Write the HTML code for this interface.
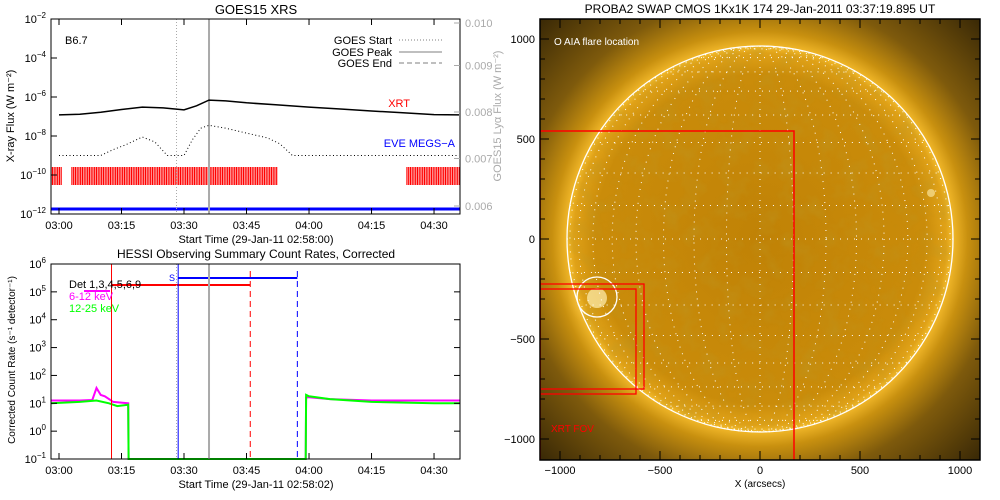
<!DOCTYPE html>
<html><head><meta charset="utf-8"><style>
body{margin:0;background:#fff}
svg{display:block;font-family:"Liberation Sans",sans-serif}
</style></head><body>
<svg id="svg" width="1000" height="500" viewBox="0 0 1000 500" xmlns="http://www.w3.org/2000/svg">
<defs>
<radialGradient id="corona" cx="760" cy="239" r="310" gradientUnits="userSpaceOnUse">
<stop offset="0" stop-color="#f0b420"/>
<stop offset="0.62" stop-color="#f2b82a"/>
<stop offset="0.67" stop-color="#c8900f"/>
<stop offset="0.78" stop-color="#7e5a0c"/>
<stop offset="1" stop-color="#3a2906"/>
</radialGradient>
<radialGradient id="disk" cx="760" cy="239" r="194" gradientUnits="userSpaceOnUse">
<stop offset="0" stop-color="#c08206"/>
<stop offset="0.85" stop-color="#ca8c0a"/>
<stop offset="0.96" stop-color="#e0a218"/>
<stop offset="1" stop-color="#f6c030"/>
</radialGradient>
<radialGradient id="flareGlow" cx="597" cy="298" r="30" gradientUnits="userSpaceOnUse">
<stop offset="0" stop-color="#fff4c8"/>
<stop offset="1" stop-color="#f0b424" stop-opacity="0"/>
</radialGradient>
<filter id="mottle" x="0" y="0" width="1" height="1">
<feTurbulence type="fractalNoise" baseFrequency="0.05" numOctaves="3" seed="7"/>
<feColorMatrix type="matrix" values="0 0 0 0 0.5  0 0 0 0 0.32  0 0 0 0 0.02  1.6 0 0 0 -0.7"/>
</filter>
<clipPath id="diskClip"><circle cx="760" cy="239" r="193"/></clipPath>
<clipPath id="imgClip"><rect x="540" y="19" width="440" height="441"/></clipPath>
</defs>
<g id="topPanel"></g>
<g id="botPanel"></g>
<g id="sunPanel"></g>
</svg>
<script>
// ---------- data ----------
const goesTimes = [0, 5, 10, 15, 20, 25, 30, 33, 36, 40, 45, 52, 60, 68, 75, 82, 90, 96];
const goesLog   = [-6.92, -6.88, -6.78, -6.64, -6.52, -6.56, -6.66, -6.45, -6.16, -6.2, -6.3, -6.4, -6.52, -6.62, -6.72, -6.8, -6.9, -6.92];
const loTimes = [0, 10, 13, 16, 20, 23, 26, 30, 32, 34, 36, 40, 45, 50, 53, 56, 62, 70, 80, 88, 96];
const loLog   = [-9.0, -9.0, -8.7, -8.45, -8.05, -8.3, -9.0, -9.0, -8.2, -7.6, -7.45, -7.6, -7.85, -8.1, -8.4, -9.0, -9.0, -9.0, -9.0, -9.0, -9.0];
const xrtIntervals = [[-2, 0.7], [3.1, 52.5], [83.5, 98]];
const goesXTicks = ["03:00", "03:15", "03:30", "03:45", "04:00", "04:15", "04:30"];
const goesYExp = [-2, -4, -6, -8, -10, -12];
const rightTicks = ["0.010", "0.009", "0.008", "0.007", "0.006"];
const goesStart = 28.2, goesPeak = 36.0;

const hessiYExp = [6, 5, 4, 3, 2, 1, 0, -1];
const magTimes = [-2, 5, 8, 9, 10, 11, 12, 13, 16.6, 16.7, 59.2, 59.3, 60, 65, 75, 90, 98];
const magLog   = [1.1, 1.1, 1.12, 1.55, 1.3, 1.25, 1.15, 1.05, 1.0, -1, -1, 1.2, 1.22, 1.15, 1.1, 1.1, 1.1];
const grnTimes = [-2, 5, 9, 12, 14, 16.6, 16.7, 59.2, 59.3, 60, 65, 75, 90, 98];
const grnLog   = [1.0, 1.05, 1.1, 1.0, 0.9, 0.95, -1, -1, 1.3, 1.25, 1.15, 1.05, 1.0, 1.0];
const attStart = 12.6, attEnd = 45.9;
const decStart = 28.6, decEnd = 57.2;
const goesLines = [28.2, 36.0];

// ---------- helpers ----------
const NS = "http://www.w3.org/2000/svg";
function mk(parent, tag, attrs, text) {
  const e = document.createElementNS(NS, tag);
  for (const k in attrs) e.setAttribute(k, attrs[k]);
  if (text !== undefined) e.textContent = text;
  parent.appendChild(e);
  return e;
}
const X0 = 51, X1 = 460;
const xT = m => 59 + m * 4.167;
const yTop = v => 19 + (-2 - v) * 19.5;
const yBot = v => 264 + (6 - v) * 27.86;

// ---------- top panel ----------
const gTop = document.getElementById('topPanel');
const t1 = mk(gTop, 'text', {x: 256, y: 14, 'text-anchor': 'middle', 'font-size': 13}, 'GOES15 XRS');


xrtIntervals.forEach(iv => {
  for (let m = iv[0]; m <= iv[1]; m += 0.42) {
    const x = xT(m);
    if (x < X0 || x > X1) continue;
    const b = mk(gTop, 'line', {x1: x, x2: x, y1: 167, y2: 185, stroke: '#ff0000', 'stroke-width': 1.2});
    
    
  }
});
const eve = mk(gTop, 'line', {x1: X0, x2: X1, y1: 209, y2: 209, stroke: '#0000ff', 'stroke-width': 3});


const gs = mk(gTop, 'line', {x1: xT(goesStart), x2: xT(goesStart), y1: 19, y2: 214, stroke: '#aaa', 'stroke-dasharray': '1 2'});


const gp = mk(gTop, 'line', {x1: xT(goesPeak), x2: xT(goesPeak), y1: 19, y2: 214, stroke: '#aaa', 'stroke-width': 2});


let d = goesTimes.map((t, i) => (i ? 'L' : 'M') + Math.min(X1, xT(t)).toFixed(1) + ' ' + yTop(goesLog[i]).toFixed(1)).join(' ');
const gl = mk(gTop, 'path', {d: d, fill: 'none', stroke: '#000', 'stroke-width': 1.5});


d = loTimes.map((t, i) => (i ? 'L' : 'M') + Math.min(X1, xT(t)).toFixed(1) + ' ' + yTop(loLog[i]).toFixed(1)).join(' ');
const gsh = mk(gTop, 'path', {d: d, fill: 'none', stroke: '#000', 'stroke-width': 1, 'stroke-dasharray': '1 2.5'});


const f1 = mk(gTop, 'rect', {x: X0, y: 19, width: X1 - X0, height: 195, fill: 'none', stroke: '#000'});


goesYExp.forEach(e => {
  const y = yTop(e);
  mk(gTop, 'line', {x1: X0, x2: X0 + 6, y1: y, y2: y, stroke: '#000'});
  const tx = mk(gTop, 'text', {x: 46, y: y + 4, 'text-anchor': 'end', 'font-size': 11});
  
  
  mk(tx, 'tspan', {}, '10');
  mk(tx, 'tspan', {dy: -5, 'font-size': 8}, '−' + (-e));
});
rightTicks.forEach((s, i) => {
  const y = 19 + i * 46.5 + (i === 4 ? 1 : 0) + (i === 0 ? 4 : 0);
  mk(gTop, 'line', {x1: X1 - 6, x2: X1, y1: y, y2: y, stroke: '#aaa'});
  const tx = mk(gTop, 'text', {x: 465, y: y + 4, 'font-size': 11, fill: '#aaa'}, s);
  
  
});
goesXTicks.forEach((s, i) => {
  const x = xT(i * 15);
  mk(gTop, 'line', {x1: x, x2: x, y1: 214, y2: 208, stroke: '#000'});
  mk(gTop, 'line', {x1: x, x2: x, y1: 19, y2: 25, stroke: '#000'});
  const tx = mk(gTop, 'text', {x: x, y: 229, 'text-anchor': 'middle', 'font-size': 11}, s);
  
  
});
let lbl = mk(gTop, 'text', {x: 256, y: 243, 'text-anchor': 'middle', 'font-size': 11}, 'Start Time (29-Jan-11 02:58:00)');


lbl = mk(gTop, 'text', {x: 0, y: 0, 'text-anchor': 'middle', 'font-size': 11, transform: 'translate(14,116) rotate(-90)'}, 'X-ray Flux (W m⁻²)');


lbl = mk(gTop, 'text', {x: 0, y: 0, 'text-anchor': 'middle', 'font-size': 11, fill: '#aaa', transform: 'translate(501,116) rotate(-90)'}, 'GOES15 Lyα Flux (W m⁻²)');


[['b-class-label', 65, 44, 'B6.7', '#000', 'start'], ['xrt-label', 410, 107, 'XRT', '#f00', 'end'], ['eve-label', 455, 147, 'EVE MEGS−A', '#00f', 'end']].forEach(a => {
  const tx = mk(gTop, 'text', {x: a[1], y: a[2], 'font-size': 11, fill: a[4], 'text-anchor': a[5]}, a[3]);
  
  
});
[['GOES Start', 44, '1 2'], ['GOES Peak', 56, 'none'], ['GOES End', 67, '5 3']].forEach(a => {
  const tx = mk(gTop, 'text', {x: 392, y: a[1], 'font-size': 11, 'text-anchor': 'end'}, a[0]);
  
  
  mk(gTop, 'line', {x1: 399, x2: 442, y1: a[1] - 4, y2: a[1] - 4, stroke: '#aaa', 'stroke-width': 1.5, 'stroke-dasharray': a[2]});
});

// ---------- bottom panel ----------
const gBot = document.getElementById('botPanel');
const t2 = mk(gBot, 'text', {x: 256, y: 258, 'text-anchor': 'middle', 'font-size': 12}, 'HESSI Observing Summary Count Rates, Corrected');


function series(times, vals, color, name) {
  const dd = times.map((t, i) => (i ? 'L' : 'M') + Math.max(X0, Math.min(X1, xT(t))).toFixed(1) + ' ' + Math.min(459, yBot(vals[i])).toFixed(1)).join(' ');
  const p = mk(gBot, 'path', {d: dd, fill: 'none', stroke: color, 'stroke-width': 2});
  
  
}
series(magTimes, magLog, '#ff00ff', 'rate-6-12kev');
series(grnTimes, grnLog, '#00ff00', 'rate-12-25kev');
let ln;
ln = mk(gBot, 'line', {x1: xT(attStart), x2: xT(attStart), y1: 264, y2: 459, stroke: '#f00'});


ln = mk(gBot, 'line', {x1: xT(attStart), x2: xT(attEnd), y1: 285, y2: 285, stroke: '#f00', 'stroke-width': 2});


ln = mk(gBot, 'line', {x1: xT(attEnd), x2: xT(attEnd), y1: 271, y2: 459, stroke: '#f00', 'stroke-dasharray': '6 4'});


ln = mk(gBot, 'line', {x1: xT(decStart), x2: xT(decStart), y1: 264, y2: 459, stroke: '#00f'});


ln = mk(gBot, 'line', {x1: xT(decStart), x2: xT(decEnd), y1: 278, y2: 278, stroke: '#00f', 'stroke-width': 2});


ln = mk(gBot, 'line', {x1: xT(decEnd), x2: xT(decEnd), y1: 271, y2: 459, stroke: '#00f', 'stroke-dasharray': '6 4'});


ln = mk(gBot, 'line', {x1: xT(goesLines[0]), x2: xT(goesLines[0]), y1: 264, y2: 459, stroke: '#aaa', 'stroke-dasharray': '1 2'});


ln = mk(gBot, 'line', {x1: xT(goesLines[1]), x2: xT(goesLines[1]), y1: 264, y2: 459, stroke: '#aaa', 'stroke-width': 2});


ln = mk(gBot, 'text', {x: 169, y: 281, 'font-size': 9, fill: '#00f'}, 'S');


ln = mk(gBot, 'line', {x1: 84, x2: 110, y1: 291, y2: 291, stroke: '#ff00ff', 'stroke-width': 2});


[['Det 1,3,4,5,6,9', 288, '#000'], ['6-12 keV', 300, '#ff00ff'], ['12-25 keV', 312, '#00ff00']].forEach(a => {
  const tx = mk(gBot, 'text', {x: 69, y: a[1], 'font-size': 11, fill: a[2]}, a[0]);
  
  
});
const f2 = mk(gBot, 'rect', {x: X0, y: 264, width: X1 - X0, height: 195, fill: 'none', stroke: '#000'});


hessiYExp.forEach(e => {
  const y = yBot(e);
  mk(gBot, 'line', {x1: X0, x2: X0 + 6, y1: y, y2: y, stroke: '#000'});
  mk(gBot, 'line', {x1: X1 - 6, x2: X1, y1: y, y2: y, stroke: '#000'});
  const tx = mk(gBot, 'text', {x: 46, y: y + 4, 'text-anchor': 'end', 'font-size': 11});
  
  
  mk(tx, 'tspan', {}, '10');
  mk(tx, 'tspan', {dy: -5, 'font-size': 8}, e < 0 ? '−' + (-e) : String(e));
});
goesXTicks.forEach((s, i) => {
  const x = xT(i * 15);
  mk(gBot, 'line', {x1: x, x2: x, y1: 459, y2: 453, stroke: '#000'});
  const tx = mk(gBot, 'text', {x: x, y: 474, 'text-anchor': 'middle', 'font-size': 11}, s);
  
  
});
ln = mk(gBot, 'text', {x: 256, y: 488, 'text-anchor': 'middle', 'font-size': 11}, 'Start Time (29-Jan-11 02:58:02)');


ln = mk(gBot, 'text', {x: 0, y: 0, 'text-anchor': 'middle', 'font-size': 10, transform: 'translate(15,360) rotate(-90)'}, 'Corrected Count Rate (s⁻¹ detector⁻¹)');



// ---------- sun panel ----------
const gSun = document.getElementById('sunPanel');
const CX = 760, CY = 239, R = 193, S = 0.2;
const sx = a => CX + a * S, sy = a => CY - a * S;
let el = mk(gSun, 'text', {x: 760, y: 13, 'text-anchor': 'middle', 'font-size': 12}, 'PROBA2 SWAP CMOS 1Kx1K 174 29-Jan-2011 03:37:19.895 UT');


const img = mk(gSun, 'g', {'clip-path': 'url(#imgClip)'});


mk(img, 'rect', {x: 540, y: 19, width: 440, height: 441, fill: 'url(#corona)'});
mk(img, 'circle', {cx: 597, cy: 298, r: 30, fill: 'url(#flareGlow)'});
mk(img, 'circle', {cx: CX, cy: CY, r: R, fill: 'url(#disk)'});
mk(img, 'rect', {x: 567, y: 46, width: 386, height: 386, filter: 'url(#mottle)', 'clip-path': 'url(#diskClip)', opacity: 0.5});
mk(img, 'circle', {cx: 597, cy: 298, r: 10, fill: '#fff0b0', opacity: 0.7});
mk(img, 'circle', {cx: 931, cy: 193, r: 4, fill: '#fff0b0', opacity: 0.6});
const grid = mk(img, 'g', {stroke: '#fff', 'stroke-width': 1, 'stroke-dasharray': '1 6', fill: 'none'});


for (let lon = 10; lon < 90; lon += 10) {
  const rx = R * Math.sin(lon * Math.PI / 180);
  mk(grid, 'ellipse', {cx: CX, cy: CY, rx: rx, ry: R});
}
mk(grid, 'line', {x1: CX, x2: CX, y1: CY - R, y2: CY + R});
for (let lat = -80; lat <= 80; lat += 10) {
  const y = CY - R * Math.sin(lat * Math.PI / 180), hw = R * Math.cos(lat * Math.PI / 180);
  mk(grid, 'line', {x1: CX - hw, x2: CX + hw, y1: y, y2: y});
}
el = mk(img, 'circle', {cx: CX, cy: CY, r: R, fill: 'none', stroke: '#fff', 'stroke-width': 1.3});


el = mk(img, 'circle', {cx: 597, cy: 297, r: 20, fill: 'none', stroke: '#fff', 'stroke-width': 1.3});


el = mk(img, 'rect', {x: 540, y: 131, width: 254, height: 332, fill: 'none', stroke: '#f00', 'stroke-width': 1.5});


el = mk(img, 'rect', {x: 540, y: 284, width: 104, height: 105, fill: 'none', stroke: '#f00', 'stroke-width': 1.3});


el = mk(img, 'rect', {x: 540, y: 289, width: 96, height: 105, fill: 'none', stroke: '#f00', 'stroke-width': 1.3});


el = mk(img, 'text', {x: 551, y: 432, 'font-size': 10, fill: '#f00'}, 'XRT FOV');


el = mk(img, 'text', {x: 554, y: 45, 'font-size': 10, fill: '#fff'}, 'O AIA flare location');


el = mk(gSun, 'rect', {x: 540, y: 19, width: 440, height: 441, fill: 'none', stroke: '#000', 'stroke-width': 1.5});


for (let v = -1000; v <= 1000; v += 100) {
  const big = v % 500 === 0;
  const x = sx(v), y = sy(v);
  mk(gSun, 'line', {x1: x, x2: x, y1: 460, y2: 460 - (big ? 9 : 5), stroke: '#000'});
  mk(gSun, 'line', {x1: x, x2: x, y1: 19, y2: 19 + (big ? 9 : 5), stroke: '#000'});
  mk(gSun, 'line', {x1: 540, x2: 540 + (big ? 9 : 5), y1: y, y2: y, stroke: '#000'});
  mk(gSun, 'line', {x1: 980, x2: 980 - (big ? 9 : 5), y1: y, y2: y, stroke: '#000'});
  if (big) {
    const a = mk(gSun, 'text', {x: x, y: 474, 'text-anchor': 'middle', 'font-size': 11}, v < 0 ? '−' + (-v) : String(v));
    
    
    const b = mk(gSun, 'text', {x: 535, y: y + 4, 'text-anchor': 'end', 'font-size': 11}, v < 0 ? '−' + (-v) : String(v));
    
    
  }
}
el = mk(gSun, 'text', {x: 760, y: 487, 'text-anchor': 'middle', 'font-size': 10}, 'X (arcsecs)');


</script>
</body></html>
